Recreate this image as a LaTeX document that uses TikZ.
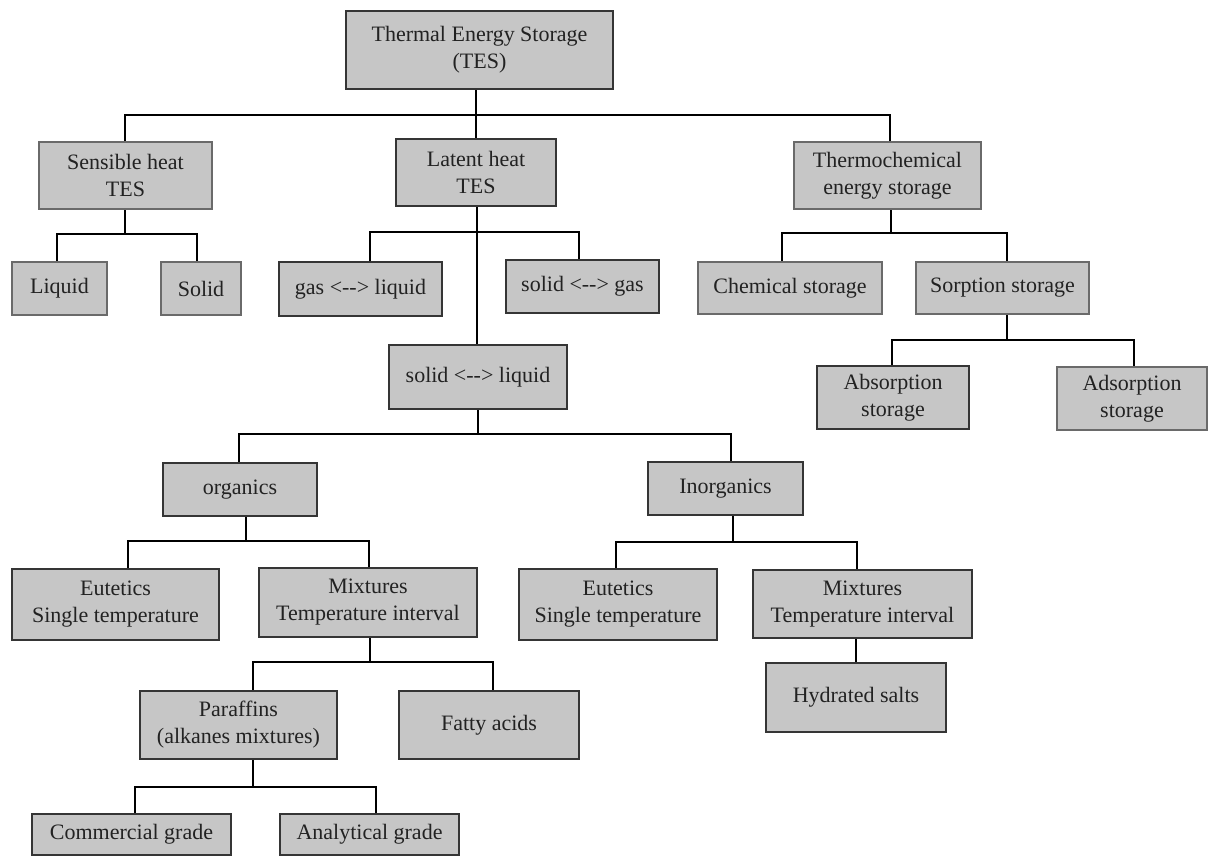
\documentclass[tikz,border=0pt]{standalone}
\usepackage{fontspec}
\setmainfont{Liberation Serif}
\begin{document}
\begin{tikzpicture}[x=1pt,y=-1pt,
  box/.style={draw=boxdark,fill=boxfill,line width=2.6pt,inner sep=0pt,align=center,
    text=txt,font=\fontsize{22}{27}\selectfont},
  lbox/.style={box,draw=boxlight},
  conn/.style={draw=black,line width=2.4pt}]
\definecolor{boxfill}{HTML}{C6C6C6}
\definecolor{boxdark}{HTML}{353535}
\definecolor{boxlight}{HTML}{6A6A6A}
\definecolor{txt}{HTML}{222222}
\useasboundingbox (0,0) rectangle (1208,856);
\fill[white] (0,0) rectangle (1208,856);
% nodes
\node[box,minimum width=267pt,minimum height=78pt] (tes) at (479.5,50) {Thermal Energy Storage\\(TES)};
\node[lbox,minimum width=173pt,minimum height=67pt] (sens) at (125.5,175.5) {Sensible heat\\TES};
\node[box,minimum width=160pt,minimum height=67pt] (lat) at (476,172.5) {Latent heat\\TES};
\node[lbox,minimum width=187pt,minimum height=67pt] (thermo) at (887.5,175.5) {Thermochemical\\energy storage};
\node[lbox,minimum width=95pt,minimum height=53pt] (liq) at (59.5,288.5) {Liquid};
\node[lbox,minimum width=80pt,minimum height=53pt] (sol) at (201,288.5) {Solid};
\node[box,minimum width=163pt,minimum height=54pt] (gl) at (360.5,289) {gas <-{}-> liquid};
\node[box,minimum width=153pt,minimum height=53pt] (sg) at (582.5,286.5) {solid <-{}-> gas};
\node[lbox,minimum width=184pt,minimum height=52pt] (chem) at (790,288) {Chemical storage};
\node[lbox,minimum width=173pt,minimum height=52pt] (sorp) at (1002.5,288) {Sorption storage};
\node[box,minimum width=152pt,minimum height=63pt] (abso) at (893,397.5) {Absorption\\storage};
\node[lbox,minimum width=150pt,minimum height=63pt] (adso) at (1132,398.5) {Adsorption\\storage};
\node[box,minimum width=178pt,minimum height=64pt] (sl) at (478,377) {solid <-{}-> liquid};
\node[box,minimum width=154pt,minimum height=53pt] (org) at (240,489.5) {organics};
\node[box,minimum width=155pt,minimum height=53pt] (inorg) at (725.5,488.5) {Inorganics};
\node[box,minimum width=207pt,minimum height=71pt] (eut1) at (115.5,604.5) {Eutetics\\Single temperature};
\node[box,minimum width=218pt,minimum height=69pt] (mix1) at (368,602.5) {Mixtures\\Temperature interval};
\node[box,minimum width=198pt,minimum height=71pt] (eut2) at (618,604.5) {Eutetics\\Single temperature};
\node[box,minimum width=219pt,minimum height=68pt] (mix2) at (862.5,604) {Mixtures\\Temperature interval};
\node[box,minimum width=180pt,minimum height=69pt] (hyd) at (856,697.5) {Hydrated salts};
\node[box,minimum width=197pt,minimum height=68pt] (par) at (238.5,725) {Paraffins\\(alkanes mixtures)};
\node[box,minimum width=180pt,minimum height=68pt] (fat) at (489,725) {Fatty acids};
\node[box,minimum width=199pt,minimum height=41pt] (com) at (131.5,834.5) {Commercial grade};
\node[box,minimum width=179pt,minimum height=41pt] (ana) at (369.5,834.5) {Analytical grade};
% bus levels
\coordinate (b0) at (0,115);
\coordinate (b1) at (0,234);
\coordinate (b2) at (0,232);
\coordinate (b3) at (0,233);
\coordinate (b4) at (0,340);
\coordinate (b5) at (0,434);
\coordinate (b6) at (0,541);
\coordinate (b7) at (0,542);
\coordinate (b8) at (0,662);
\coordinate (b9) at (0,787);
% connectors
\draw[conn] ([xshift=-3.5pt]tes.south) -- ([xshift=-3.5pt]tes.south |- b0);
\draw[conn] ([xshift=-0.5pt]sens.north) |- ([xshift=2.5pt]thermo.north |- b0) -- ([xshift=2.5pt]thermo.north);
\draw[conn] (lat.north) -- (lat.north |- b0);
\draw[conn] ([xshift=-0.5pt]sens.south) -- ([xshift=-0.5pt]sens.south |- b1);
\draw[conn] ([xshift=-2.5pt]liq.north) |- ([xshift=-4pt]sol.north |- b1) -- ([xshift=-4pt]sol.north);
\draw[conn] ([xshift=1pt]lat.south) -- ([xshift=1pt]lat.south |- sl.north);
\draw[conn] ([xshift=9.5pt]gl.north) |- ([xshift=-3.5pt]sg.north |- b2) -- ([xshift=-3.5pt]sg.north);
\draw[conn] ([xshift=3.5pt]thermo.south) -- ([xshift=3.5pt]thermo.south |- b3);
\draw[conn] ([xshift=-8pt]chem.north) |- ([xshift=4.5pt]sorp.north |- b3) -- ([xshift=4.5pt]sorp.north);
\draw[conn] ([xshift=4.5pt]sorp.south) -- ([xshift=4.5pt]sorp.south |- b4);
\draw[conn] ([xshift=-1pt]abso.north) |- ([xshift=2pt]adso.north |- b4) -- ([xshift=2pt]adso.north);
\draw[conn] (sl.south) -- (sl.south |- b5);
\draw[conn] ([xshift=-1pt]org.north) |- ([xshift=5.5pt]inorg.north |- b5) -- ([xshift=5.5pt]inorg.north);
\draw[conn] ([xshift=6pt]org.south) -- ([xshift=6pt]org.south |- b6);
\draw[conn] ([xshift=12.5pt]eut1.north) |- ([xshift=1pt]mix1.north |- b6) -- ([xshift=1pt]mix1.north);
\draw[conn] ([xshift=7.5pt]inorg.south) -- ([xshift=7.5pt]inorg.south |- b7);
\draw[conn] ([xshift=-2pt]eut2.north) |- ([xshift=-5.5pt]mix2.north |- b7) -- ([xshift=-5.5pt]mix2.north);
\draw[conn] ([xshift=2pt]mix1.south) -- ([xshift=2pt]mix1.south |- b8);
\draw[conn] ([xshift=14.5pt]par.north) |- ([xshift=4pt]fat.north |- b8) -- ([xshift=4pt]fat.north);
\draw[conn] ([xshift=-6.5pt]mix2.south) -- ([xshift=-6.5pt]mix2.south |- hyd.north);
\draw[conn] ([xshift=14.5pt]par.south) -- ([xshift=14.5pt]par.south |- b9);
\draw[conn] ([xshift=3.5pt]com.north) |- ([xshift=6.5pt]ana.north |- b9) -- ([xshift=6.5pt]ana.north);
\end{tikzpicture}
\end{document}
